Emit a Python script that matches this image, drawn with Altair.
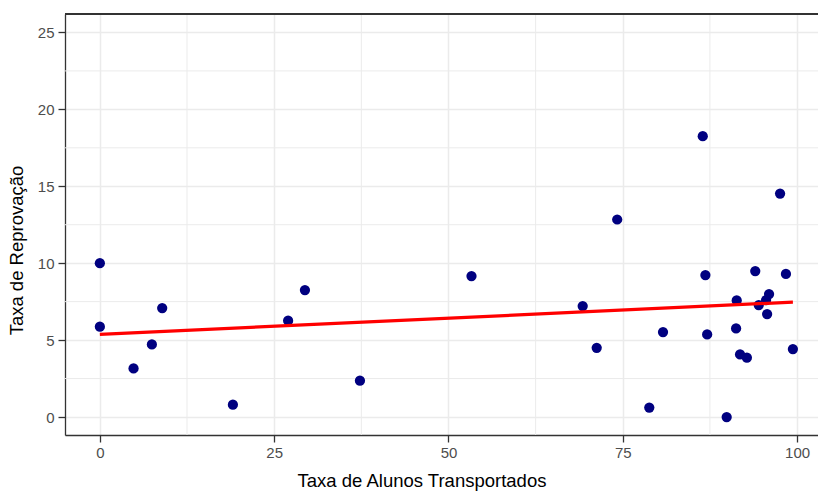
import altair as alt
import pandas as pd

# Data
transported = [0, 0, 4.83, 7.46, 8.94, 19.08, 27.0, 29.41, 37.3, 53.3, 69.25, 71.26,
               74.2, 78.8, 80.77, 86.47, 86.85, 87.1, 89.9, 91.34, 91.25, 91.82, 92.8,
               94.0, 94.5, 95.55, 95.98, 95.7, 97.56, 98.4, 99.4]
failure = [10.0, 5.87, 3.16, 4.72, 7.08, 0.80, 6.26, 8.25, 2.36, 9.16, 7.21, 4.50,
           12.84, 0.61, 5.52, 18.26, 9.23, 5.37, 0.0, 7.58, 5.76, 4.07, 3.86,
           9.49, 7.28, 7.60, 7.99, 6.69, 14.53, 9.3, 4.42]

x_major = [0, 25, 50, 75, 100]
x_minor = [12.5, 37.5, 62.5, 87.5]
y_major = [0, 5, 10, 15, 20, 25]
y_minor = [2.5, 7.5, 12.5, 17.5, 22.5]

x_title = "Taxa de Alunos Transportados"
y_title = "Taxa de Reprovação"

df = pd.DataFrame({"x": transported, "y": failure})
xminor_df = pd.DataFrame({"v": x_minor})
yminor_df = pd.DataFrame({"v": y_minor})

W, H = 753, 421
FONT = "Liberation Sans"
xscale = alt.Scale(domain=[-5, 103], nice=False, zero=False)
yscale = alt.Scale(domain=[-1.17, 26.2], nice=False, zero=False)

xaxis = alt.Axis(values=x_major, title=x_title, grid=True, gridColor="#EBEBEB", gridWidth=1.5,
                 domainColor="#333333", domainWidth=1.3, tickColor="#333333", tickWidth=1.3,
                 tickSize=7, labelFont=FONT, labelFontSize=15, labelColor="#4D4D4D",
                 labelPadding=3, titleFont=FONT, titleFontSize=18.5, titleFontWeight="normal",
                 titleColor="#000000", titleX=356.5, titleY=51, titleBaseline="alphabetic",
                 titleAlign="center", titleAnchor="start")
yaxis = alt.Axis(values=y_major, title=y_title, grid=True, gridColor="#EBEBEB", gridWidth=1.5,
                 domainColor="#333333", domainWidth=1.3, tickColor="#333333", tickWidth=1.3,
                 tickSize=7, labelFont=FONT, labelFontSize=15, labelColor="#4D4D4D",
                 labelPadding=4, titleFont=FONT, titleFontSize=18.5, titleFontWeight="normal",
                 titleColor="#000000", titleX=-43, titleY=236, titleAngle=270,
                 titleBaseline="alphabetic", titleAlign="center", titleAnchor="start")

minor_x = alt.Chart(xminor_df).mark_rule(color="#EBEBEB", strokeWidth=1).encode(
    x=alt.X("v:Q", scale=xscale, axis=xaxis))
minor_y = alt.Chart(yminor_df).mark_rule(color="#EBEBEB", strokeWidth=1).encode(
    y=alt.Y("v:Q", scale=yscale, axis=yaxis))

points = alt.Chart(df).mark_circle(size=105, color="#000080", opacity=1).encode(
    x=alt.X("x:Q", scale=xscale, axis=xaxis),
    y=alt.Y("y:Q", scale=yscale, axis=yaxis))

line = alt.Chart(df).transform_regression("x", "y").mark_line(
    color="#FF0000", strokeWidth=3.2).encode(
    x=alt.X("x:Q", scale=xscale, axis=xaxis),
    y=alt.Y("y:Q", scale=yscale, axis=yaxis))

top_border = alt.Chart(df).mark_rule(color="#333333", strokeWidth=1.3).encode(
    x=alt.value(0), x2=alt.value(W), y=alt.value(0))

chart = alt.layer(minor_x, minor_y, points, line, top_border).properties(
    width=W, height=H,
    autosize=alt.AutoSizeParams(type="none"),
    padding={"left": 65, "top": 14, "right": 0, "bottom": 56},
).configure_view(stroke=None).configure(background="white")

chart.save("out.html", embed_options={"renderer": "svg", "actions": False})
